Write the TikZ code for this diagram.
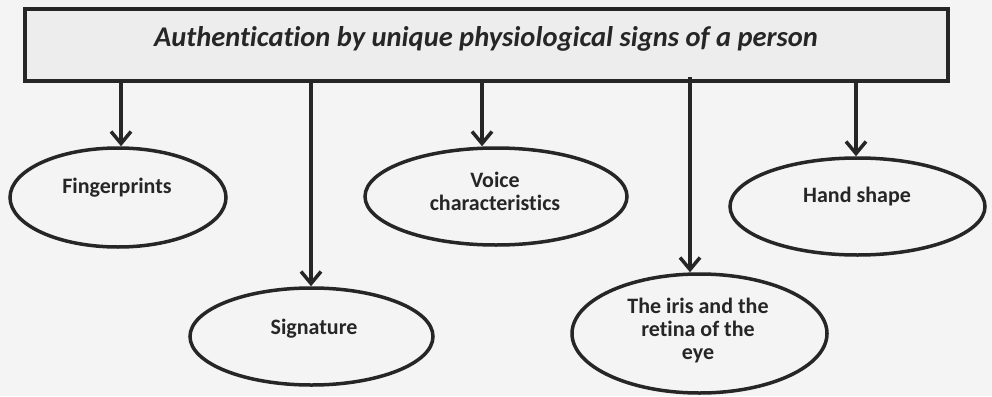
\documentclass[tikz,border=0pt]{standalone}
\usepackage{fontspec}
\setmainfont{Carlito}[Ligatures=NoCommon]
\usetikzlibrary{shapes.geometric,arrows.meta}
\definecolor{ink}{HTML}{262626}
\definecolor{paper}{HTML}{F4F4F4}
\definecolor{boxfill}{HTML}{EDEDED}
\begin{document}
\begin{tikzpicture}[x=1pt,y=-1pt,
  headbox/.style={draw=ink,line width=3.5pt,fill=boxfill,minimum width=923pt,minimum height=72pt,inner sep=0pt},
  sign/.style={draw=ink,line width=3.5pt,ellipse,inner sep=0pt,fill=paper},
  label/.style={font=\bfseries\fontsize{22}{23}\selectfont,text=ink,align=center},
  link/.style={draw=ink,line width=3.5pt,-{Straight Barb[length=12pt,width=20pt,line width=3.5pt]}}]
\fill[paper] (0,0) rectangle (992,396);
\useasboundingbox (0,0) rectangle (992,396);

% heading bar
\node[headbox] (head) at (486.5,45) {};
\node[font=\bfseries\itshape\fontsize{28.5}{32}\selectfont,text=ink] (title) at (486,39)
  {Authentication by unique physiological signs of a person};

% the five physiological signs
\node[sign,minimum width=216pt,minimum height=99pt] (finger) at (118,197.5) {};
\node[label] (fingert) at (117,188) {Fingerprints};

\node[sign,minimum width=243pt,minimum height=97pt] (sig) at (311.5,336.5) {};
\node[label] (sigt) at (314,329) {Signature};

\node[sign,minimum width=262pt,minimum height=97pt] (voice) at (496,196.5) {};
\node[label] (voicet) at (495,191) {Voice\\characteristics};

\node[sign,minimum width=255pt,minimum height=119pt] (iris) at (699.5,333.5) {};
\node[label] (irist) at (698,331) {The iris and the\\retina of the\\eye};

\node[sign,minimum width=255pt,minimum height=97pt] (hand) at (857.5,206.5) {};
\node[label] (handt) at (857,197) {Hand shape};

% drop points on the bottom edge of the bar
\coordinate (h1) at (121,81);
\coordinate (h2) at (311,81);
\coordinate (h3) at (482,81);
\coordinate (h4) at (690,77);
\coordinate (h5) at (856,81);

\draw[link] (h1) -- (h1 |- finger.north);
\draw[link] (h2) -- (h2 |- sig.north);
\draw[link] (h3) -- (h3 |- voice.north);
\draw[link] (h4) -- (h4 |- iris.north);
\draw[link] (h5) -- (h5 |- hand.north);
\end{tikzpicture}
\end{document}
